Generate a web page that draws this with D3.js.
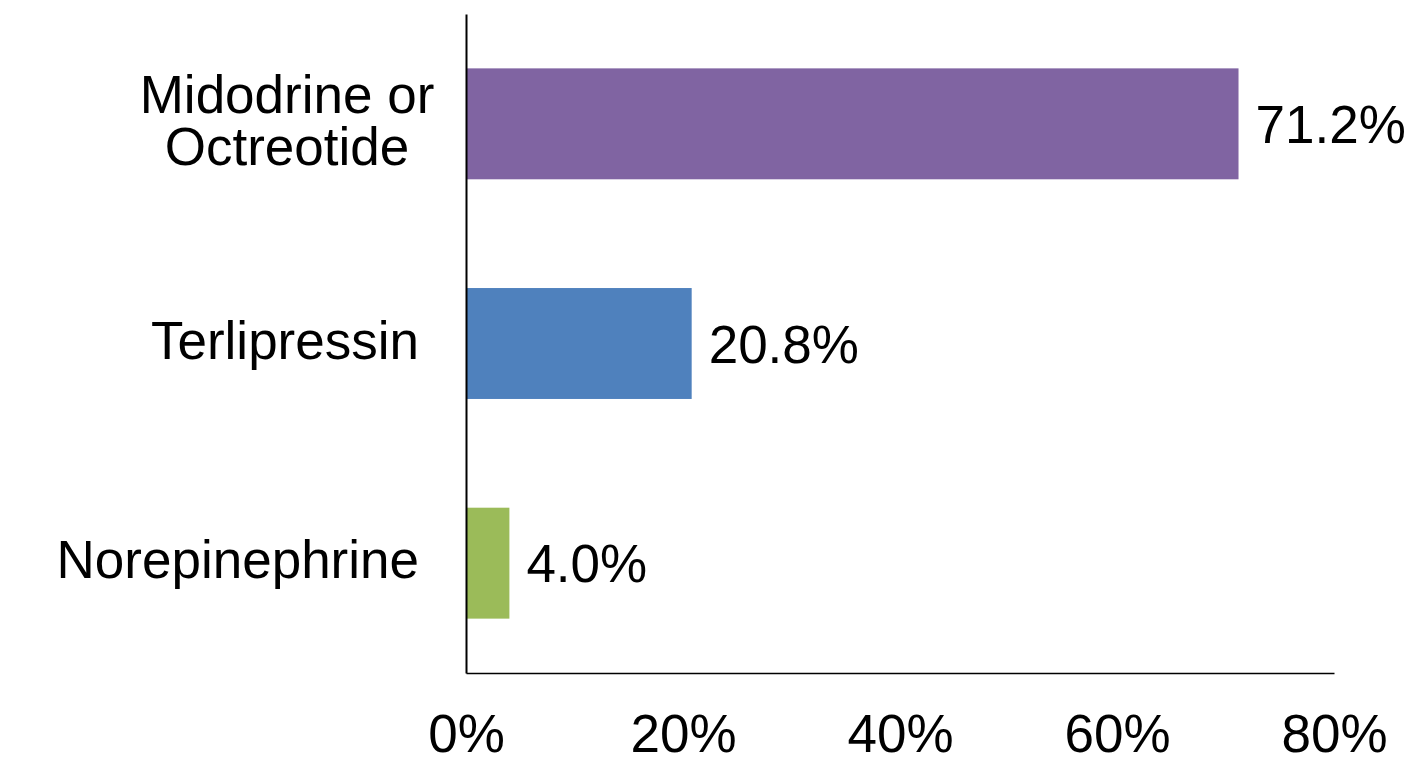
<!DOCTYPE html>
<html>
<head>
<meta charset="utf-8">
<script src="https://cdn.jsdelivr.net/npm/d3@7"></script>
<style>
  html, body { margin: 0; padding: 0; background: #fff; }
  svg { display: block; }
  text { font-family: "Liberation Sans", Arial, sans-serif; fill: #000; }
</style>
</head>
<body>
<svg id="chart" width="1418" height="758"></svg>
<script>
const categories = [["Midodrine or", "Octreotide"], ["Terlipressin"], ["Norepinephrine"]];
const values = [71.2, 20.8, 4.0];
const colors = ["#8064A2", "#4F81BD", "#9BBB59"];
const tickValues = [0, 20, 40, 60, 80];

const W = 1418, H = 758;
const margin = { left: 466, right: 84, top: 14, bottom: 85 };
const fontSize = 53;

const svg = d3.select("#chart");
const keys = categories.map(c => c.join(" "));

const x = d3.scaleLinear().domain([0, 80]).range([margin.left, W - margin.right]);
const y = d3.scaleBand().domain(keys).range([margin.top, H - margin.bottom])
  .paddingInner(0.495).paddingOuter(0.2475);

// bars
svg.append("g").selectAll("rect").data(values).join("rect")
  .attr("x", x(0))
  .attr("y", (d, i) => y(keys[i]))
  .attr("width", d => x(d) - x(0))
  .attr("height", y.bandwidth())
  .attr("fill", (d, i) => colors[i]);

// value labels
svg.append("g").selectAll("text").data(values).join("text")
  .attr("x", d => x(d) + 17)
  .attr("y", (d, i) => y(keys[i]) + y.bandwidth() / 2 + 19)
  .attr("font-size", fontSize)
  .text(d => d.toFixed(1) + "%");

// x axis
const xAxis = d3.axisBottom(x).tickValues(tickValues).tickSize(0).tickPadding(0)
  .tickFormat(d => d + "%");
const gx = svg.append("g").attr("transform", `translate(0,${H - margin.bottom})`).call(xAxis);
gx.select(".domain").attr("stroke", "#000").attr("stroke-width", 1.5);
gx.selectAll(".tick text")
  .attr("font-family", '"Liberation Sans", Arial, sans-serif')
  .attr("font-size", fontSize)
  .attr("fill", "#000")
  .attr("dy", null)
  .attr("y", 79);

// y axis line
const gy = svg.append("g").attr("transform", `translate(${margin.left},0)`)
  .call(d3.axisLeft(y).tickSize(0).tickFormat(""));
gy.select(".domain").attr("stroke", "#000").attr("stroke-width", 2);

// category labels
const labelRight = margin.left - 47;
const lineH = 52;
categories.forEach((lines, i) => {
  const cy = y(keys[i]) + y.bandwidth() / 2;
  const n = lines.length;
  const g = svg.append("g");
  lines.forEach((ln, j) => {
    const t = g.append("text").attr("font-size", fontSize)
      .attr("y", cy + 15 + (j - (n - 1) / 2) * lineH)
      .text(ln);
    if (n === 1) {
      t.attr("text-anchor", "end").attr("x", labelRight);
    } else {
      t.attr("text-anchor", "middle").attr("x", labelRight - 132);
    }
  });
});
</script>
</body>
</html>
